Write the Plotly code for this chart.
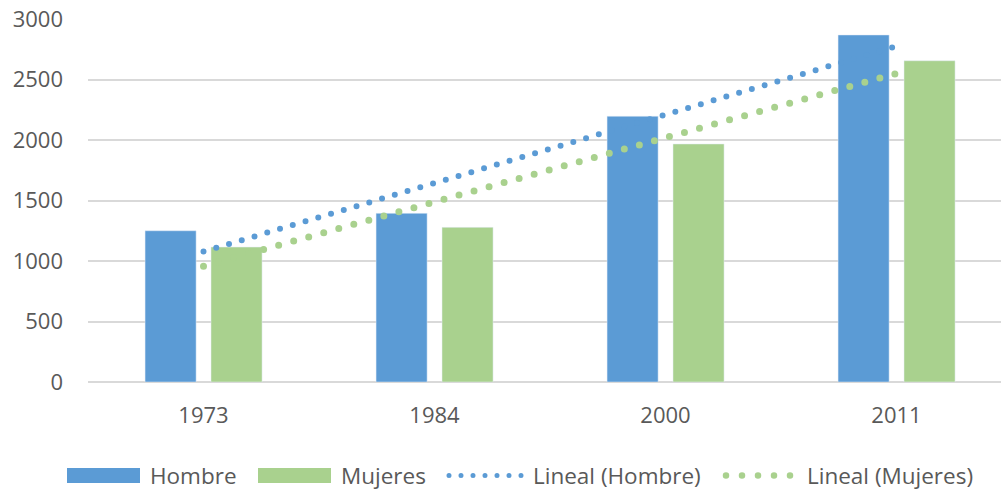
import numpy as np
import plotly.graph_objects as go

# ---- data ----
years = ["1973", "1984", "2000", "2011"]
hombre = [1250, 1394, 2196, 2868]
mujeres = [1115, 1278, 1967, 2655]
series_names = ["Hombre", "Mujeres", "Lineal (Hombre)", "Lineal (Mujeres)"]
y_ticks = [0, 500, 1000, 1500, 2000, 2500, 3000]

BLUE = "#5B9BD5"
GREEN = "#A9D18E"
TXT = "#595959"
GRID = "#D9D9D9"
FONT = "Open Sans"

# linear trend (Excel style, on category index)
idx = np.arange(1, len(years) + 1)
ph = np.polyfit(idx, hombre, 1)
pm = np.polyfit(idx, mujeres, 1)
trend_h = np.polyval(ph, idx)
trend_m = np.polyval(pm, idx)

W, H = 1001, 491
L, R, T, B = 88, 0, 19, 109
plot_w = W - L - R
plot_h = H - T - B
cat_px = 231.0
x_range = [-0.5, -0.5 + plot_w / cat_px]

fig = go.Figure()
fig.add_trace(go.Bar(x=years, y=hombre, name=series_names[0], marker_color=BLUE,
                     width=0.221, offset=-0.253, showlegend=False))
fig.add_trace(go.Bar(x=years, y=mujeres, name=series_names[1], marker_color=GREEN,
                     width=0.221, offset=0.0325, showlegend=False))
fig.add_trace(go.Scatter(x=years, y=trend_h, name=series_names[2], mode="lines",
                         line=dict(color=BLUE, width=6, dash="0px,13.3px"), showlegend=False))
fig.add_trace(go.Scatter(x=years, y=trend_m, name=series_names[3], mode="lines",
                         line=dict(color=GREEN, width=7, dash="0px,15.6px"), showlegend=False))

def px_x(p):
    return (p - L) / plot_w

def px_y(p):
    return (H - B - p) / plot_h

shapes = []
annotations = []
ly = 475.5
# legend: bars
for (x0, x1, col, tx, label) in [(67, 140, BLUE, 150, series_names[0]),
                                 (258, 331, GREEN, 341, series_names[1])]:
    shapes.append(dict(type="rect", xref="paper", yref="paper",
                       x0=px_x(x0), x1=px_x(x1), y0=px_y(483), y1=px_y(468),
                       fillcolor=col, line=dict(width=0)))
    annotations.append(dict(text=label, xref="paper", yref="paper", x=px_x(tx - 2), y=px_y(ly),
                            xanchor="left", yanchor="middle", showarrow=False,
                            font=dict(family=FONT, size=22.5, color=TXT)))
# legend: trend lines
for (x0, x1, col, w, d, tx, label) in [(449, 522, BLUE, 5, "0px,12px", 533, series_names[2]),
                                       (726, 791, GREEN, 6.5, "0px,16px", 807, series_names[3])]:
    shapes.append(dict(type="line", xref="paper", yref="paper",
                       x0=px_x(x0), x1=px_x(x1), y0=px_y(ly), y1=px_y(ly),
                       line=dict(color=col, width=w, dash=d)))
    annotations.append(dict(text=label, xref="paper", yref="paper", x=px_x(tx - 2), y=px_y(ly),
                            xanchor="left", yanchor="middle", showarrow=False,
                            font=dict(family=FONT, size=22.5, color=TXT)))

fig.update_layout(
    width=W, height=H,
    margin=dict(l=L, r=R, t=T, b=B),
    paper_bgcolor="white", plot_bgcolor="white",
    font=dict(family=FONT, size=22, color=TXT),
    barmode="overlay",
    shapes=shapes, annotations=annotations,
    xaxis=dict(type="category", range=x_range, showgrid=False, zeroline=False,
               showline=False, ticks="", ticklabelstandoff=18,
               tickfont=dict(family=FONT, size=22, color=TXT)),
    yaxis=dict(range=[0, 3000], tickvals=y_ticks, showgrid=True, gridcolor=GRID,
               gridwidth=2, zeroline=True, zerolinecolor=GRID, zerolinewidth=2,
               showline=False, ticks="", ticklabelstandoff=24,
               tickfont=dict(family=FONT, size=22, color=TXT)),
)

post = """
document.body.style.margin = '0';
document.body.style.padding = '0';
document.body.style.overflow = 'hidden';
var s = document.createElement('style');
s.innerHTML = '.js-line, .shapelayer path { stroke-linecap: round !important; } .modebar-container{display:none !important;}';
document.head.appendChild(s);
"""
fig.write_html("out.html", post_script=post, config={"displayModeBar": False})
